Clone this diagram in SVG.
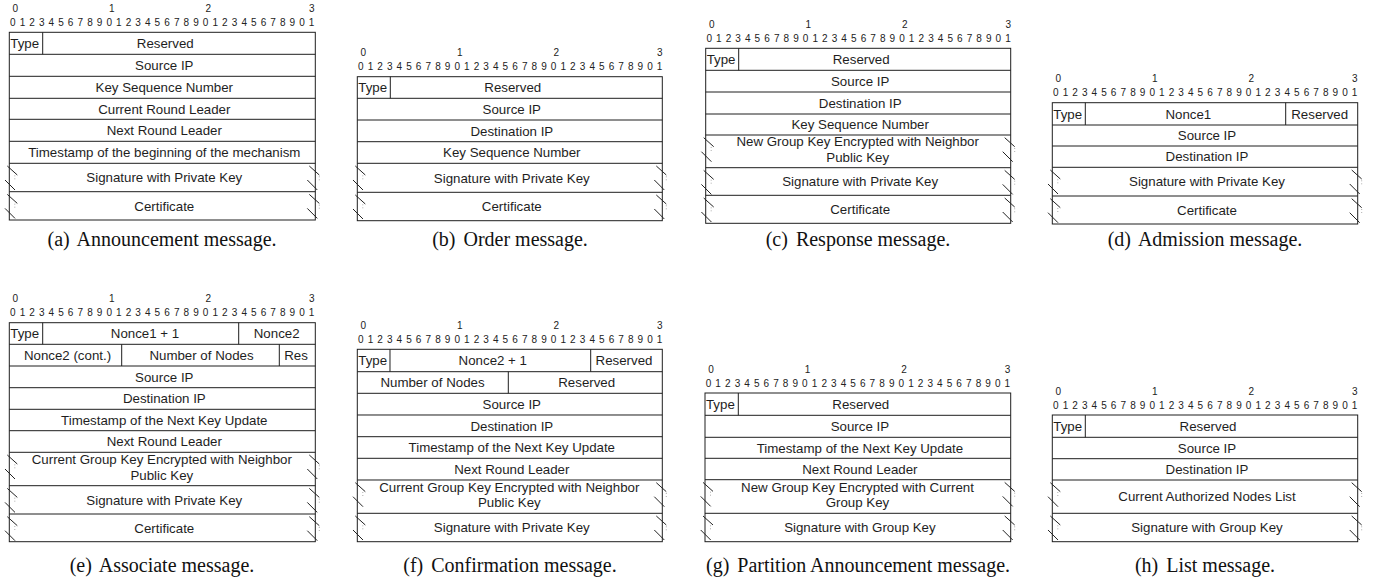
<svg xmlns="http://www.w3.org/2000/svg" xmlns:xlink="http://www.w3.org/1999/xlink" width="1380" height="584" viewBox="0 0 1380 584">
<style>
.bx{fill:none;stroke:#1e1e1e;stroke-width:1}
.ln{stroke:#1e1e1e;stroke-width:1}
.bk line{stroke:#222;stroke-width:1}
.bk line.dt{stroke:#999;stroke-width:0.8;stroke-dasharray:1 2}
.dg{font-family:"Liberation Sans",Arial,sans-serif;font-size:10px;fill:#222;text-anchor:middle}
.lb{font-family:"Liberation Sans",Arial,sans-serif;font-size:13.3px;fill:#1e1e1e;text-anchor:middle}
.cap{font-family:"Liberation Serif","Times New Roman",serif;font-size:20px;fill:#111;text-anchor:middle}
</style>
<defs>
<g id="ruler">
<text class="dg" y="-20.5" x="6 102.5 199 302.5">0123</text>
<text class="dg" y="-6.3" x="3.5 13.14 22.78 32.42 42.06 51.7 61.34 70.98 80.62 90.26 99.9 109.54 119.18 128.82 138.46 148.1 157.74 167.38 177.02 186.66 196.3 205.94 215.58 225.22 234.86 244.5 254.14 263.78 273.42 283.06 292.7 302.34">01234567890123456789012345678901</text>
</g>
<g id="bkL" class="bk"><line x1="-2" y1="2.7" x2="8" y2="11.7"/><line x1="-4.3" y1="16.7" x2="5.7" y2="26.7"/><line class="dt" x1="5.5" y1="12" x2="5.5" y2="16"/></g>
<g id="bkR" class="bk"><line x1="-6" y1="2.7" x2="4" y2="11.7"/><line x1="-8" y1="16.7" x2="2" y2="26.7"/><line class="dt" x1="4" y1="13" x2="4" y2="17"/></g>
</defs>

<g id="panel-a" transform="translate(9.3,32.3)">
<use href="#ruler"/>
<rect class="bx" x="0" y="0" width="306" height="187.7"/>
<path class="ln" d="M0 22H306M0 44H306M0 66H306M0 87H306M0 109H306M0 131H306M0 159.4H306M33.4 0V22"/>
<use href="#bkL" y="131"/><use href="#bkR" x="306" y="131"/>
<use href="#bkL" y="159.4"/><use href="#bkR" x="306" y="159.4"/>
<text class="lb" x="15.4" y="15.8">Type</text>
<text class="lb" x="156" y="15.8">Reserved</text>
<text class="lb" x="155" y="37.8">Source IP</text>
<text class="lb" x="155" y="59.8">Key Sequence Number</text>
<text class="lb" x="155" y="81.3">Current Round Leader</text>
<text class="lb" x="155" y="102.8">Next Round Leader</text>
<text class="lb" x="155" y="124.8">Timestamp of the beginning of the mechanism</text>
<text class="lb" x="155" y="150">Signature with Private Key</text>
<text class="lb" x="155" y="178.3">Certificate</text>
</g>

<g id="panel-b" transform="translate(357.3,76.7)">
<use href="#ruler"/>
<rect class="bx" x="0" y="0" width="305" height="144"/>
<path class="ln" d="M0 21.6H305M0 43.3H305M0 65H305M0 86.6H305M0 115.6H305M33 0V21.6"/>
<use href="#bkL" y="86.6"/><use href="#bkR" x="305" y="86.6"/>
<use href="#bkL" y="115.6"/><use href="#bkR" x="305" y="115.6"/>
<text class="lb" x="15.4" y="15.6">Type</text>
<text class="lb" x="155.5" y="15.6">Reserved</text>
<text class="lb" x="154.5" y="37.2">Source IP</text>
<text class="lb" x="154.5" y="58.9">Destination IP</text>
<text class="lb" x="154.5" y="80.6">Key Sequence Number</text>
<text class="lb" x="154.5" y="105.9">Signature with Private Key</text>
<text class="lb" x="154.5" y="134.6">Certificate</text>
</g>

<g id="panel-c" transform="translate(705.7,48.3)">
<use href="#ruler"/>
<rect class="bx" x="0" y="0" width="305" height="175"/>
<path class="ln" d="M0 22H305M0 43.7H305M0 65.7H305M0 86.7H305M0 119.4H305M0 147H305M33 0V22"/>
<use href="#bkL" y="86.7"/><use href="#bkR" x="305" y="86.7"/>
<use href="#bkL" y="119.4"/><use href="#bkR" x="305" y="119.4"/>
<use href="#bkL" y="147"/><use href="#bkR" x="305" y="147"/>
<text class="lb" x="15.4" y="15.8">Type</text>
<text class="lb" x="155.5" y="15.8">Reserved</text>
<text class="lb" x="154.5" y="37.6">Source IP</text>
<text class="lb" x="154.5" y="59.5">Destination IP</text>
<text class="lb" x="154.5" y="81">Key Sequence Number</text>
<text class="lb" x="152" y="98.2">New Group Key Encrypted with Neighbor</text>
<text class="lb" x="152" y="114">Public Key</text>
<text class="lb" x="154.5" y="138">Signature with Private Key</text>
<text class="lb" x="154.5" y="165.8">Certificate</text>
</g>

<g id="panel-d" transform="translate(1052.3,102.7)">
<use href="#ruler"/>
<rect class="bx" x="0" y="0" width="305.4" height="121.3"/>
<path class="ln" d="M0 22.3H305.4M0 43.3H305.4M0 64.6H305.4M0 93.3H305.4M33 0V22.3M233.4 0V22.3"/>
<use href="#bkL" y="64.6"/><use href="#bkR" x="305.4" y="64.6"/>
<use href="#bkL" y="93.3"/><use href="#bkR" x="305.4" y="93.3"/>
<text class="lb" x="15.4" y="15.9">Type</text>
<text class="lb" x="136" y="15.9">Nonce1</text>
<text class="lb" x="267.4" y="15.9">Reserved</text>
<text class="lb" x="154.7" y="37.6">Source IP</text>
<text class="lb" x="154.7" y="58.7">Destination IP</text>
<text class="lb" x="154.7" y="83.7">Signature with Private Key</text>
<text class="lb" x="154.7" y="112.1">Certificate</text>
</g>

<g id="panel-e" transform="translate(9.3,322.7)">
<use href="#ruler"/>
<rect class="bx" x="0" y="0" width="306" height="219"/>
<path class="ln" d="M0 21.6H306M0 43.3H306M0 65H306M0 86.6H306M0 108H306M0 129.6H306M0 163H306M0 191.3H306M33.4 0V21.6M229.4 0V21.6M112.4 21.6V43.3M270 21.6V43.3"/>
<use href="#bkL" y="129.6"/><use href="#bkR" x="306" y="129.6"/>
<use href="#bkL" y="163"/><use href="#bkR" x="306" y="163"/>
<use href="#bkL" y="191.3"/><use href="#bkR" x="306" y="191.3"/>
<text class="lb" x="15.4" y="15.6">Type</text>
<text class="lb" x="135.7" y="15.6">Nonce1 + 1</text>
<text class="lb" x="267.4" y="15.6">Nonce2</text>
<text class="lb" x="58.2" y="37.2">Nonce2 (cont.)</text>
<text class="lb" x="192.2" y="37.2">Number of Nodes</text>
<text class="lb" x="286.7" y="37.2">Res</text>
<text class="lb" x="155" y="58.9">Source IP</text>
<text class="lb" x="155" y="80.6">Destination IP</text>
<text class="lb" x="155" y="102.1">Timestamp of the Next Key Update</text>
<text class="lb" x="155" y="123.6">Next Round Leader</text>
<text class="lb" x="152.5" y="141.4">Current Group Key Encrypted with Neighbor</text>
<text class="lb" x="152.5" y="156.9">Public Key</text>
<text class="lb" x="155" y="181.9">Signature with Private Key</text>
<text class="lb" x="155" y="209.9">Certificate</text>
</g>

<g id="panel-f" transform="translate(357.3,349.3)">
<use href="#ruler"/>
<rect class="bx" x="0" y="0" width="305" height="192.4"/>
<path class="ln" d="M0 22.4H305M0 44H305M0 65.7H305M0 87.4H305M0 109H305M0 130.7H305M0 164H305M32.7 0V22.4M233.4 0V22.4M151 22.4V44"/>
<use href="#bkL" y="130.7"/><use href="#bkR" x="305" y="130.7"/>
<use href="#bkL" y="164"/><use href="#bkR" x="305" y="164"/>
<text class="lb" x="15.4" y="16">Type</text>
<text class="lb" x="135.5" y="16">Nonce2 + 1</text>
<text class="lb" x="266.7" y="16">Reserved</text>
<text class="lb" x="75.2" y="38">Number of Nodes</text>
<text class="lb" x="229.4" y="38">Reserved</text>
<text class="lb" x="154.5" y="59.6">Source IP</text>
<text class="lb" x="154.5" y="81.3">Destination IP</text>
<text class="lb" x="154.5" y="103">Timestamp of the Next Key Update</text>
<text class="lb" x="154.5" y="124.6">Next Round Leader</text>
<text class="lb" x="152" y="142.5">Current Group Key Encrypted with Neighbor</text>
<text class="lb" x="152" y="158">Public Key</text>
<text class="lb" x="154.5" y="183">Signature with Private Key</text>
</g>

<g id="panel-g" transform="translate(705,393)">
<use href="#ruler"/>
<rect class="bx" x="0" y="0" width="305.7" height="148.7"/>
<path class="ln" d="M0 22.3H305.7M0 44.3H305.7M0 65.3H305.7M0 86.7H305.7M0 120.3H305.7M33.3 0V22.3"/>
<use href="#bkL" y="86.7"/><use href="#bkR" x="305.7" y="86.7"/>
<use href="#bkL" y="120.3"/><use href="#bkR" x="305.7" y="120.3"/>
<text class="lb" x="15.4" y="15.9">Type</text>
<text class="lb" x="155.8" y="15.9">Reserved</text>
<text class="lb" x="154.9" y="38.1">Source IP</text>
<text class="lb" x="154.9" y="59.6">Timestamp of the Next Key Update</text>
<text class="lb" x="154.9" y="80.8">Next Round Leader</text>
<text class="lb" x="152.5" y="98.5">New Group Key Encrypted with Current</text>
<text class="lb" x="152.5" y="114">Group Key</text>
<text class="lb" x="154.9" y="139.3">Signature with Group Key</text>
</g>

<g id="panel-h" transform="translate(1052.3,415)">
<use href="#ruler"/>
<rect class="bx" x="0" y="0" width="305.4" height="126.7"/>
<path class="ln" d="M0 22.3H305.4M0 43.7H305.4M0 65H305.4M0 98.3H305.4M33 0V22.3"/>
<use href="#bkL" y="65"/><use href="#bkR" x="305.4" y="65"/>
<use href="#bkL" y="98.3"/><use href="#bkR" x="305.4" y="98.3"/>
<text class="lb" x="15.4" y="15.9">Type</text>
<text class="lb" x="155.7" y="15.9">Reserved</text>
<text class="lb" x="154.7" y="37.8">Source IP</text>
<text class="lb" x="154.7" y="59.1">Destination IP</text>
<text class="lb" x="154.7" y="86.4">Current Authorized Nodes List</text>
<text class="lb" x="154.7" y="117.3">Signature with Group Key</text>
</g>

<g id="captions">
<text class="cap" x="162" y="246">(a)<tspan dx="3"> Announcement message.</tspan></text>
<text class="cap" x="510" y="246">(b)<tspan dx="3"> Order message.</tspan></text>
<text class="cap" x="858" y="246">(c)<tspan dx="3"> Response message.</tspan></text>
<text class="cap" x="1205" y="246">(d)<tspan dx="3"> Admission message.</tspan></text>
<text class="cap" x="162" y="572">(e)<tspan dx="3"> Associate message.</tspan></text>
<text class="cap" x="510" y="572">(f)<tspan dx="3"> Confirmation message.</tspan></text>
<text class="cap" x="858" y="572">(g)<tspan dx="3"> Partition Announcement message.</tspan></text>
<text class="cap" x="1205" y="572">(h)<tspan dx="3"> List message.</tspan></text>
</g>
</svg>
